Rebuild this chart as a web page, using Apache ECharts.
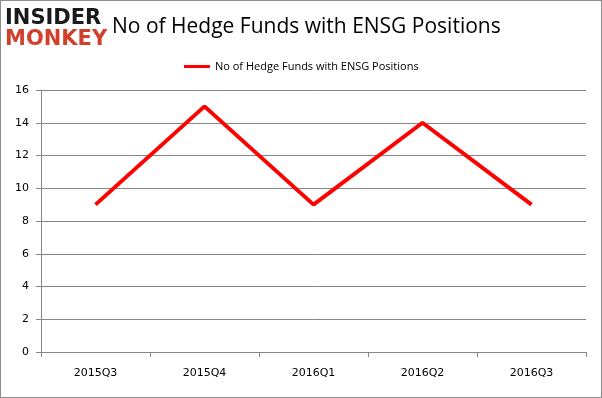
<!DOCTYPE html>
<html>
<head>
<meta charset="utf-8">
<script src="https://cdn.jsdelivr.net/npm/echarts@6/dist/echarts.min.js"></script>
<style>
  html, body { margin: 0; padding: 0; background: #fff; }
  #chart { width: 602px; height: 398px; box-sizing: border-box; border: 1px solid #8c8c8c; }
</style>
</head>
<body>
<div id="chart"></div>
<script>
// 数据
var quarters = ['2015Q3', '2015Q4', '2016Q1', '2016Q2', '2016Q3'];
var fundCounts = [9, 15, 9, 14, 9];
var seriesName = 'No of Hedge Funds with ENSG Positions';

var myChart = echarts.init(document.getElementById('chart'));

var option = {
    backgroundColor: '#fff',
    animation: false,
    title: {
        text: 'No of Hedge Funds with ENSG Positions',
        left: 106,
        top: 11,
        textStyle: {
            fontFamily: 'Open Sans',
            fontWeight: 'normal',
            fontSize: 21,
            color: '#000'
        }
    },
    legend: {
        data: [seriesName],
        top: 55,
        left: 178,
        itemWidth: 26,
        itemHeight: 3,
        itemGap: 4,
        icon: 'rect',
        textStyle: {
            fontFamily: 'Open Sans',
            fontSize: 11,
            color: '#000'
        }
    },
    grid: {
        left: 40,
        right: 15,
        top: 89,
        bottom: 45
    },
    xAxis: {
        type: 'category',
        data: quarters,
        boundaryGap: true,
        axisLine: { lineStyle: { color: '#868686' } },
        axisTick: { show: true, length: 5, lineStyle: { color: '#868686' } },
        axisLabel: { fontFamily: 'DejaVu Sans', fontSize: 11, color: '#000', margin: 16 }
    },
    yAxis: {
        type: 'value',
        min: 0,
        max: 16,
        interval: 2,
        axisLine: { show: true, lineStyle: { color: '#868686' } },
        axisTick: { show: true, length: 5, lineStyle: { color: '#868686' } },
        splitLine: { lineStyle: { color: '#868686' } },
        axisLabel: { fontFamily: 'DejaVu Sans', fontSize: 11, color: '#000', margin: 12 }
    },
    series: [{
        name: seriesName,
        type: 'line',
        data: fundCounts,
        symbol: 'none',
        lineStyle: { color: '#ff0000', width: 4 },
        itemStyle: { color: '#ff0000' }
    }],
    graphic: [
        {
            type: 'text',
            left: 4,
            top: 7,
            style: {
                text: 'INSIDER',
                fontFamily: 'DejaVu Sans',
                fontWeight: 'bold',
                fontSize: 21,
                fill: '#1a1a1a'
            }
        },
        {
            type: 'text',
            left: 4,
            top: 28,
            style: {
                text: 'MONKEY',
                fontFamily: 'DejaVu Sans',
                fontWeight: 'bold',
                fontSize: 21,
                fill: '#d2402c'
            }
        }
    ]
};

myChart.setOption(option);
</script>
</body>
</html>
